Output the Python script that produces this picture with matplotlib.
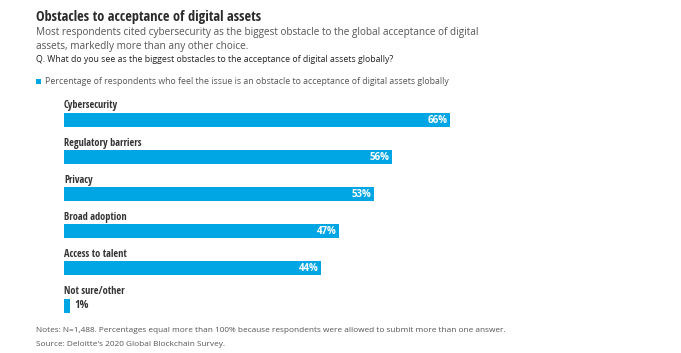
import matplotlib.pyplot as plt
from matplotlib import font_manager

categories = ['Cybersecurity', 'Regulatory barriers', 'Privacy', 'Broad adoption',
              'Access to talent', 'Not sure/other']
values = [66, 56, 53, 47, 44, 1]

names = {f.name for f in font_manager.fontManager.ttflist}
narrow = next((n for n in ['Open Sans Condensed', 'Roboto Condensed', 'Liberation Sans Narrow']
               if n in names), 'Open Sans')
plt.rcParams['font.family'] = ['Open Sans', 'DejaVu Sans']

blue = '#00a5e3'
W, H = 681, 353
fig = plt.figure(figsize=(W / 100, H / 100), dpi=100)

def px(x, y):
    return x / W, 1 - y / H

fig.text(*px(36, 17), 'Obstacles to acceptance of digital assets', family=[narrow, 'DejaVu Sans'],
         fontsize=10.4, weight='bold', color='#2b2b2b', va='center')
fig.text(*px(36, 33), 'Most respondents cited cybersecurity as the biggest obstacle to the global acceptance of digital',
         fontsize=7.2, color='#555555', va='center')
fig.text(*px(36, 46), 'assets, markedly more than any other choice.',
         fontsize=7.2, color='#555555', va='center')
fig.text(*px(36, 59), 'Q. What do you see as the biggest obstacles to the acceptance of digital assets globally?',
         fontsize=6.3, color='#222222', va='center')
fig.patches.append(plt.Rectangle(px(36, 84), 5 / W, 5 / H, transform=fig.transFigure,
                                 facecolor=blue, edgecolor='none'))
fig.text(*px(45, 81), 'Percentage of respondents who feel the issue is an obstacle to acceptance of digital assets globally',
         fontsize=6.3, color='#555555', va='center')

fig.text(*px(36, 331), 'Notes: N=1,488. Percentages equal more than 100% because respondents were allowed to submit more than one answer.',
         fontsize=5.95, color='#555555', va='center')
fig.text(*px(36, 345), "Source: Deloitte's 2020 Global Blockchain Survey.",
         fontsize=5.95, color='#555555', va='center')

# axes: x 0..100 maps to 64..649 px, category i centred at 120 + 37.1*i px
step = 37.1
top, bottom = 95, 322
ax = fig.add_axes([64 / W, 1 - bottom / H, 585 / W, (bottom - top) / H])
ax.set_xlim(0, 100)
ax.set_ylim((bottom - 120) / step, (top - 120) / step)
ax.axis('off')

pos = list(range(len(categories)))
ax.barh(pos, values, height=14 / step, color=blue, edgecolor='none')
for i, (c, v) in enumerate(zip(categories, values)):
    ax.text(0, i - 0.38, c, family=[narrow, 'DejaVu Sans'], fontsize=7.4, weight='bold',
            color='#333333', va='center', ha='left')
    if v >= 10:
        ax.text(v - 0.45, i, f'{v}%', fontsize=7, weight='bold',
                color='white', va='center', ha='right')
    else:
        ax.text(v + 0.7, i, f'{v}%', fontsize=7, weight='bold',
                color='#333333', va='center', ha='left')

fig.savefig('out.png', dpi=100, facecolor='white')
